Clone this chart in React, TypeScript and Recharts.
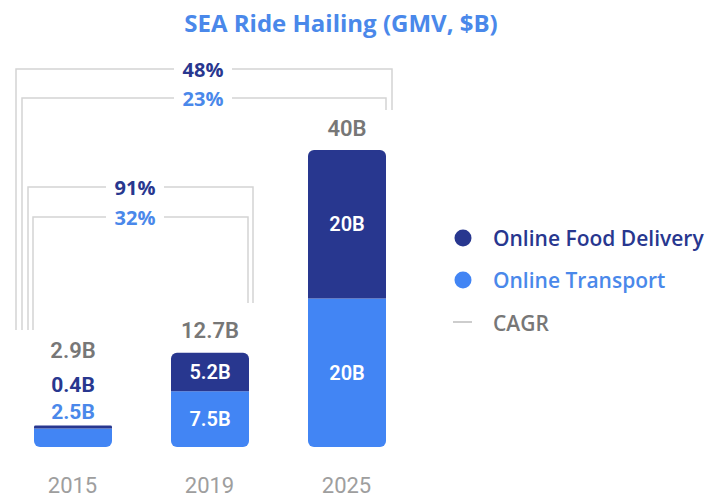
import React from 'react';
import { BarChart, Bar, XAxis, YAxis, LabelList, Customized } from 'recharts';

const years = ['2015', '2019', '2025'];
const transport = [2.5, 7.5, 20];
const food = [0.4, 5.2, 20];
const totals = ['2.9B', '12.7B', '40B'];
const cagrFull = ['48%', '23%']; // 2015-2025: food, transport
const cagrShort = ['91%', '32%']; // 2015-2019: food, transport
const legendNames = ['Online Food Delivery', 'Online Transport', 'CAGR'];

const DARK = '#28378F';
const BLUE = '#4285F4';
const BLUE_TXT = '#4A88EA';
const GRAY = '#777777';
const TICK = '#9E9E9E';
const LINE = '#D4D4D4';
const FONT = 'Roboto, "Noto Sans", sans-serif';
const WIDE = '"Open Sans", Roboto, sans-serif';

const data = years.map((y, i) => ({ year: y, transport: transport[i], food: food[i] }));

const fmt = (v: number) => `${v}B`;

const renderTransportLabel = (p: any) => {
  const { x, y, width, height, index } = p;
  if (height < 24) return null;
  return (
    <text x={x + width / 2} y={y + height / 2} fill="#fff" fontSize={20} fontWeight={600}
      fontFamily={FONT} textAnchor="middle" dominantBaseline="central">
      {fmt(transport[index])}
    </text>
  );
};

const renderFoodLabel = (p: any) => {
  const { x, y, width, height, index } = p;
  const cx = x + width / 2;
  const common = { textAnchor: 'middle' as const, dominantBaseline: 'central' as const, fontFamily: FONT };
  if (height >= 24) {
    return (
      <g>
        <text x={cx} y={y + height / 2} fill="#fff" fontWeight={600} fontSize={20} {...common}>{fmt(food[index])}</text>
        <text x={cx} y={y - 22} fill={GRAY} fontWeight={600} fontSize={22} {...common}>{totals[index]}</text>
      </g>
    );
  }
  return (
    <g>
      <text x={cx} y={y - 75} fill={GRAY} fontWeight={600} fontSize={22} {...common}>{totals[index]}</text>
      <text x={cx} y={y - 40} fill={DARK} fontWeight={700} fontSize={21} {...common}>{fmt(food[index])}</text>
      <text x={cx} y={y - 13} fill={BLUE_TXT} fontWeight={700} fontSize={21} {...common}>{fmt(transport[index])}</text>
    </g>
  );
};

// annotation layout (bracket geometry)
const brackets = [
  { label: cagrFull[0], color: DARK, y: 69, left: 16, right: 392, lb: 330, rb: 110, lx: 203 },
  { label: cagrFull[1], color: BLUE_TXT, y: 98, left: 22, right: 386, lb: 330, rb: 110, lx: 203 },
  { label: cagrShort[0], color: DARK, y: 187, left: 28, right: 253, lb: 330, rb: 303, lx: 135 },
  { label: cagrShort[1], color: BLUE_TXT, y: 217, left: 33, right: 248, lb: 330, rb: 303, lx: 135 },
];

const Brackets = () => (
  <g>
    {brackets.map((b, i) => (
      <g key={i}>
        <polyline points={`${b.left},${b.lb} ${b.left},${b.y} ${b.right},${b.y} ${b.right},${b.rb}`}
          fill="none" stroke={LINE} strokeWidth={1.5} />
        <rect x={b.lx - 29} y={b.y - 10} width={58} height={20} fill="#fff" />
        <text x={b.lx} y={b.y} fill={b.color} fontSize={20} fontWeight={700} fontFamily={WIDE}
          textAnchor="middle" dominantBaseline="central">{b.label}</text>
      </g>
    ))}
  </g>
);

const Legend = () => (
  <g fontFamily={WIDE} fontSize={21} fontWeight={600}>
    <circle cx={463} cy={238} r={8.5} fill={DARK} />
    <text x={493} y={238} fill={DARK} dominantBaseline="central">{legendNames[0]}</text>
    <circle cx={463} cy={280} r={8.5} fill={BLUE} />
    <text x={493} y={280} fill={BLUE_TXT} dominantBaseline="central">{legendNames[1]}</text>
    <line x1={453} x2={472} y1={322} y2={322} stroke="#BDBDBD" strokeWidth={1.5} />
    <text x={493} y={323} fill={GRAY} dominantBaseline="central">{legendNames[2]}</text>
  </g>
);

const Title = () => (
  <text x={341} y={22} fill={BLUE_TXT} fontSize={24} fontWeight={700} fontFamily={WIDE}
    textAnchor="middle" dominantBaseline="central">SEA Ride Hailing (GMV, $B)</text>
);

export default function App() {
  return (
    <div style={{ position: 'absolute', left: 0, top: 0, width: 707, height: 497, background: '#fff' }}>
      <BarChart width={707} height={497} data={data}
        margin={{ top: 150, right: 292, left: 4, bottom: 0 }} barSize={78}>
        <XAxis dataKey="year" axisLine={false} tickLine={false} height={50} tickSize={0} tickMargin={30}
          tick={{ fill: TICK, fontSize: 22, fontFamily: FONT }} />
        <YAxis hide domain={[0, 40]} />
        <Bar dataKey="transport" stackId="a" fill={BLUE} radius={[0, 0, 6, 6]} isAnimationActive={false}>
          <LabelList dataKey="transport" content={renderTransportLabel} />
        </Bar>
        <Bar dataKey="food" stackId="a" fill={DARK} radius={[6, 6, 0, 0]} isAnimationActive={false}>
          <LabelList dataKey="food" content={renderFoodLabel} />
        </Bar>
        <Customized component={Brackets} />
        <Customized component={Legend} />
        <Customized component={Title} />
      </BarChart>
    </div>
  );
}
